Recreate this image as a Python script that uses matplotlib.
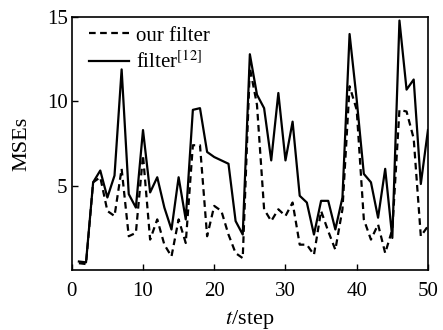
import numpy as np
import matplotlib
matplotlib.use("Agg")
import matplotlib.pyplot as plt

plt.rcParams['font.family'] = ['Liberation Serif', 'DejaVu Serif']
plt.rcParams['mathtext.fontset'] = 'stix'

# datos
pasos = np.arange(1, 51)
mse_nuestro = [0.4, 0.35, 5.2, 5.5, 3.5, 3.2, 6.0, 2.0, 2.2, 6.8,
               1.8, 3.0, 1.5, 0.8, 3.0, 1.6, 7.4, 7.4, 2.0, 3.8,
               3.5, 2.1, 1.0, 0.7, 12.0, 9.8, 3.6, 2.9, 3.6, 3.2,
               4.0, 1.5, 1.5, 0.9, 3.5, 2.3, 1.2, 3.6, 10.9, 9.5,
               3.0, 1.8, 2.7, 1.0, 2.4, 9.5, 9.4, 7.8, 2.0, 2.6]
mse_ref12 = [0.5, 0.45, 5.2, 5.9, 4.3, 5.6, 11.9, 4.5, 3.7, 8.3,
             4.6, 5.5, 3.7, 2.4, 5.5, 3.0, 9.5, 9.6, 7.0, 6.7,
             6.5, 6.3, 2.9, 2.1, 12.8, 10.4, 9.6, 6.5, 10.5, 6.5,
             8.8, 4.4, 4.0, 2.1, 4.1, 4.1, 2.4, 4.3, 14.0, 10.1,
             5.7, 5.2, 3.1, 6.0, 1.9, 14.8, 10.7, 11.3, 5.1, 8.3]

fig = plt.figure(figsize=(4.43, 3.30), dpi=100)
ax = fig.add_axes([0.162, 0.182, 0.804, 0.766])

ax.plot(pasos, mse_nuestro, color='black', linestyle=(0, (3, 2)), linewidth=1.6,
        label='our filter')
ax.plot(pasos, mse_ref12, color='black', linestyle='-', linewidth=1.6,
        label=r'filter$^{[12]}$')

ax.set_xlim(0, 50)
ax.set_ylim(0, 15)
ax.set_xticks([0, 10, 20, 30, 40, 50])
ax.set_yticks([5, 10, 15])
ax.tick_params(direction='in', length=4, width=1, labelsize=15)
ax.tick_params(axis='x', pad=9)
ax.tick_params(axis='y', pad=3)
for s in ax.spines.values():
    s.set_linewidth(1.2)

ax.set_xlabel(r'$t$/step', fontsize=16, labelpad=5)
ax.set_ylabel('MSEs', fontsize=16, labelpad=11)

ax.legend(loc='upper left', bbox_to_anchor=(0.049, 0.965), frameon=False,
          fontsize=15, handlelength=1.9, handletextpad=0.35, labelspacing=0.28,
          borderaxespad=0, borderpad=0)

plt.savefig('out.png', dpi=100)
